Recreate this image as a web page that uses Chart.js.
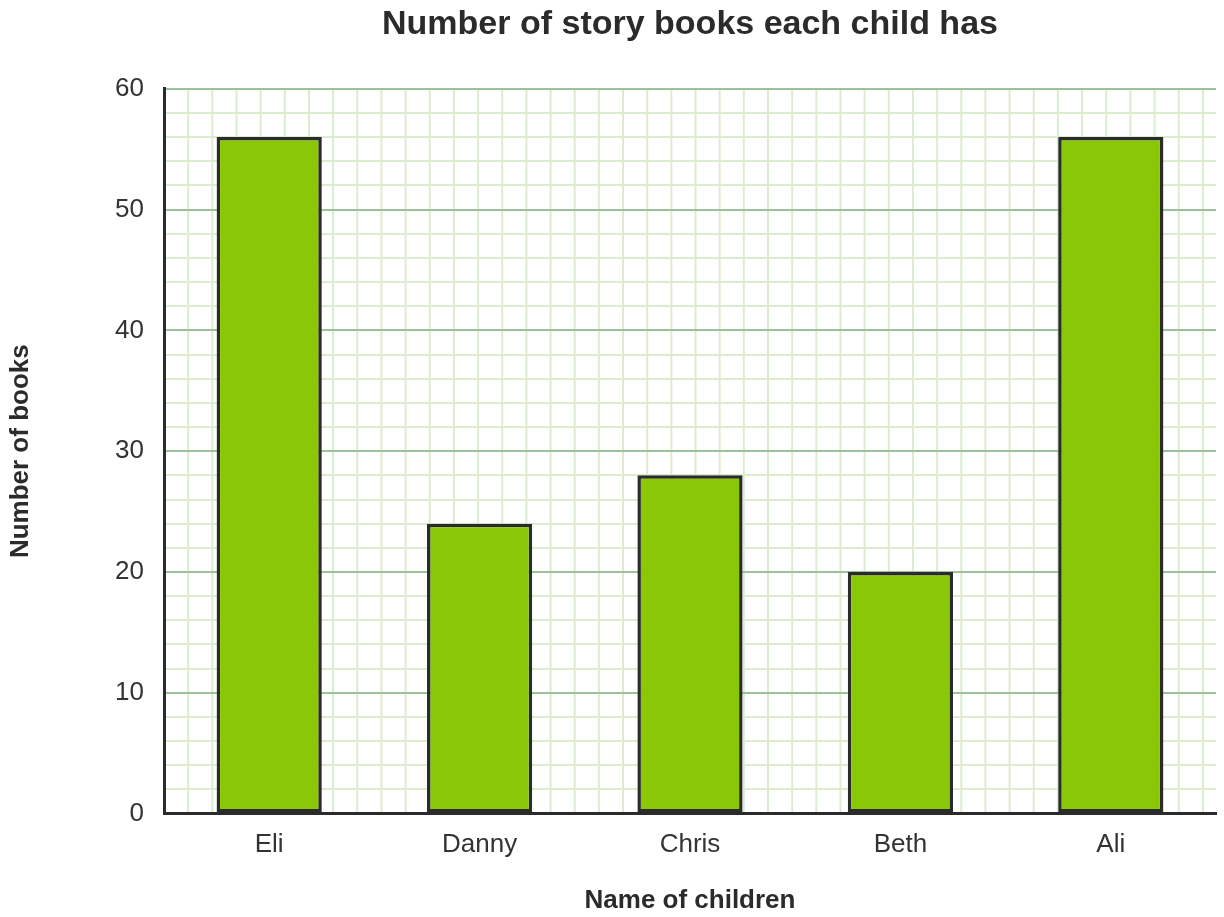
<!DOCTYPE html>
<html>
<head>
<meta charset="utf-8">
<script src="https://cdn.jsdelivr.net/npm/chart.js@4.4.1/dist/chart.umd.min.js"></script>
<style>
  html, body { margin: 0; padding: 0; background: #fff; }
  #wrap { width: 1224px; height: 917px; }
</style>
</head>
<body>
<div id="wrap"><canvas id="chart"></canvas></div>
<script>
  // data
  const children = ['Eli', 'Danny', 'Chris', 'Beth', 'Ali'];
  const books = [56, 24, 28, 20, 56];
  const yTicks = [0, 10, 20, 30, 40, 50, 60];

  const ink = '#2b2b2b';
  const majorGrid = '#9cc19b';
  const minorGrid = '#dcecd0';
  const face = 'Liberation Sans, Arial, sans-serif';

  // vertical minor grid lines, same spacing as the 2-unit horizontal ones
  const squareGrid = {
    id: 'squareGrid',
    beforeDraw(chart) {
      const { ctx, chartArea: a, scales } = chart;
      const step = scales.y.getPixelForValue(0) - scales.y.getPixelForValue(2);
      ctx.save();
      ctx.strokeStyle = minorGrid;
      ctx.lineWidth = 2;
      ctx.beginPath();
      for (let x = a.left + step; x < a.right; x += step) {
        ctx.moveTo(x, a.top);
        ctx.lineTo(x, a.bottom);
      }
      ctx.stroke();
      ctx.restore();
    }
  };

  new Chart(document.getElementById('chart'), {
    type: 'bar',
    data: {
      labels: children,
      datasets: [{
        label: 'Number of books',
        data: books,
        backgroundColor: '#8ac807',
        borderColor: ink,
        borderWidth: 3.5,
        borderSkipped: false,
        barPercentage: 0.5,
        categoryPercentage: 1
      }]
    },
    options: {
      responsive: true,
      maintainAspectRatio: false,
      animation: false,
      layout: { padding: { left: 0, right: 8, top: 0, bottom: 1 } },
      plugins: {
        legend: { display: false },
        tooltip: { enabled: false },
        title: {
          display: true,
          text: 'Number of story books each child has',
          fullSize: false,
          color: ink,
          font: { family: face, size: 34, weight: 'bold' },
          padding: { top: 4, bottom: 44 }
        }
      },
      scales: {
        x: {
          grid: { display: false },
          border: { color: ink, width: 3 },
          ticks: {
            color: '#333',
            padding: 8,
            font: { family: face, size: 26 }
          },
          title: {
            display: true,
            text: 'Name of children',
            color: ink,
            padding: { top: 16, bottom: 0 },
            font: { family: face, size: 26, weight: 'bold' }
          }
        },
        y: {
          min: 0,
          max: 60,
          afterFit(scale) { scale.width = 164; },
          afterBuildTicks(scale) {
            scale.ticks = [];
            for (let v = 0; v <= 60; v += 2) scale.ticks.push({ value: v });
          },
          border: { color: ink, width: 3 },
          grid: {
            drawTicks: false,
            lineWidth: 2,
            color: c => (c.tick && c.tick.value % 10 === 0) ? majorGrid : minorGrid
          },
          ticks: {
            autoSkip: false,
            padding: 20,
            color: '#333',
            font: { family: face, size: 26 },
            callback: v => yTicks.includes(v) ? String(v) : ''
          },
          title: {
            display: true,
            text: 'Number of books',
            color: ink,
            padding: { top: 5, bottom: 0 },
            font: { family: face, size: 26, weight: 'bold' }
          }
        }
      }
    },
    plugins: [squareGrid]
  });
</script>
</body>
</html>
